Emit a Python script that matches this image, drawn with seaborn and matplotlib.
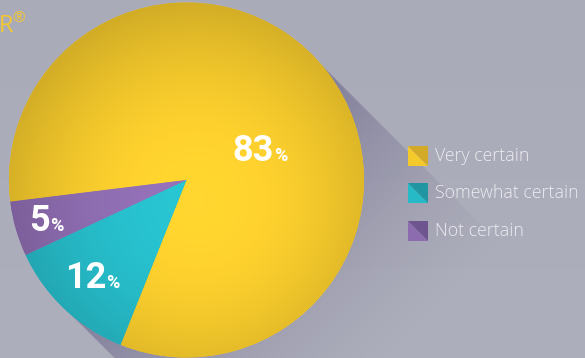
import numpy as np
import matplotlib
matplotlib.use("Agg")
import matplotlib.pyplot as plt
from matplotlib.patches import Polygon
import seaborn as sns

# Survey answers and their shares (percent)
categories = ["Very certain", "Somewhat certain", "Not certain"]
shares = [83, 12, 5]

# Slice colours: main tone and the darker half used in the legend swatches
base_colors = ["#f4c92c", "#26b9c6", "#8c6bae"]
shade_colors = ["#d3aa27", "#1f96a1", "#6e5590"]

W, H = 585, 358
sns.set_style("white")
plt.rcParams["font.family"] = ["Open Sans", "DejaVu Sans"]

fig = plt.figure(figsize=(W / 100, H / 100), dpi=100)
ax = fig.add_axes([0, 0, 1, 1])

cx, cy, R = 186.5, 178.0, 177.5

# pixel grid in data coordinates (y up)
ys, xs = np.mgrid[0:H, 0:W].astype(float)
ys += 0.5
xs += 0.5

# --- background: soft grey-lilac wash ---
bg_top = np.array([170, 171, 184]) / 255
bg_bot = np.array([174, 175, 188]) / 255
tv = (ys / H)[..., None]
bg = bg_bot * (1 - tv) + bg_top * tv
ax.imshow(bg, extent=(0, W, 0, H), origin="lower", zorder=0, interpolation="bilinear")

# --- long shadow cast towards the lower right ---
d = np.array([1.0, -1.0]) / np.sqrt(2)
n = np.array([1.0, 1.0]) / np.sqrt(2)
px, py = xs - cx, ys - cy
t = px * d[0] + py * d[1]
s = px * n[0] + py * n[1]
band = (np.abs(s) <= R) & (t > 0)
fade = np.clip(1 - t / 270.0, 0, 1) ** 1.4
edge = np.clip((R - np.abs(s)) / 1.5, 0, 1)
alpha = np.where(band, 0.6 * fade * edge, 0.0)
shadow = np.zeros((H, W, 4))
shadow[..., :3] = np.array([92, 86, 128]) / 255
shadow[..., 3] = alpha
ax.imshow(shadow, extent=(0, W, 0, H), origin="lower", zorder=1, interpolation="bilinear")

# --- pie ---
wedges, _ = ax.pie(
    shares,
    colors=base_colors,
    startangle=187,
    counterclock=False,
    center=(cx, cy),
    radius=R,
    frame=True,
    wedgeprops=dict(linewidth=0, zorder=2),
)

# radial shading laid over each slice
hx, hy = cx + 10, cy - 20
dist = np.hypot(xs - hx, ys - hy) / R
shade = np.clip(1.07 - 0.17 * dist ** 2, 0, 1.2)
for w, c in zip(wedges, base_colors):
    rgb = np.array(matplotlib.colors.to_rgb(c))
    img = np.clip(rgb[None, None, :] * shade[..., None], 0, 1)
    im = ax.imshow(img, extent=(0, W, 0, H), origin="lower", zorder=3,
                   interpolation="bilinear")
    im.set_clip_path(w)

# --- value labels ---
label_pos = [(274, 161), (106, 288), (50, 231)]  # right edge of number, baseline (pixels)
for v, (lx, lb) in zip(shares, label_pos):
    ax.text(lx, H - lb, f"{v}", color="white", fontsize=26, fontweight="bold",
            family=["Roboto", "DejaVu Sans"], ha="right", va="baseline", zorder=5)
    ax.text(lx + 0.5, H - lb, "%", color="white", fontsize=13, fontweight="bold",
            family=["Roboto", "DejaVu Sans"], ha="left", va="baseline", zorder=5)

# --- legend with split swatches ---
sw = 20
for i, (lab, c, sc) in enumerate(zip(categories, base_colors, shade_colors)):
    top = 146 + i * 37.3
    x0, x1 = 408, 408 + sw
    y0, y1 = H - top - sw, H - top
    ax.add_patch(Polygon([(x0, y1), (x0, y0), (x1, y0)], closed=True,
                         facecolor=c, edgecolor="none", zorder=5))
    ax.add_patch(Polygon([(x0, y1), (x1, y1), (x1, y0)], closed=True,
                         facecolor=sc, edgecolor="none", zorder=5))
    ax.text(435, H - top - sw / 2, lab, color="#ececf1", fontsize=12.8,
            fontweight="light", ha="left", va="center", zorder=5)

# brand mark peeking in at the top left
ax.text(-1, H - 32, "R", color="#f2c731", fontsize=17, fontweight="normal",
        ha="left", va="baseline", zorder=5)
ax.text(12, H - 22, "®", color="#f2c731", fontsize=11, ha="left",
        va="baseline", zorder=5)

ax.set_xlim(0, W)
ax.set_ylim(0, H)
ax.set_aspect("auto")
ax.axis("off")

fig.savefig("out.png", dpi=100)
